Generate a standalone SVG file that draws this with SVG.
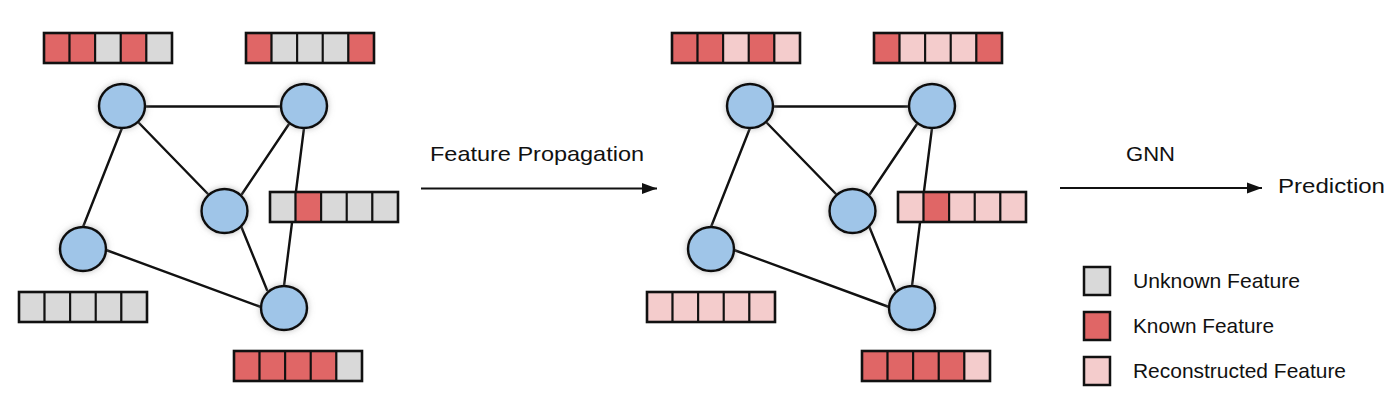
<svg xmlns="http://www.w3.org/2000/svg" width="1400" height="407" viewBox="0 0 1400 407">
<defs>
<style>
.edge{stroke:#111;stroke-width:2.4;fill:none;stroke-linecap:round}
.node{fill:#9fc5e8;stroke:#111;stroke-width:2.5;filter:url(#glow)}
.bar{fill:none;stroke:#111;stroke-width:2.6}
.cell{stroke:#111;stroke-width:2}
.g{fill:#d9d9d9}
.r{fill:#e06666}
.p{fill:#f4cccc}
.lbl{font-family:"Liberation Sans",Arial,sans-serif;font-size:21px;fill:#111}
.arrow{stroke:#111;stroke-width:2.2;fill:none}
</style>
<filter id="glow" x="-40%" y="-40%" width="180%" height="180%">
<feDropShadow dx="0" dy="0" stdDeviation="3" flood-color="#888" flood-opacity="0.55"/>
</filter>
<marker id="ah" markerUnits="userSpaceOnUse" markerWidth="16" markerHeight="12" refX="15" refY="6" orient="auto">
<path d="M0,0.5 L15,6 L0,11.5 z" fill="#111"/>
</marker>
</defs>
<rect width="1400" height="407" fill="#fff"/>

<!-- LEFT GRAPH -->
<g id="left-graph">
<g id="left-edges">
<line class="edge" x1="146" y1="106.5" x2="281" y2="106.5"/>
<line class="edge" x1="122" y1="128" x2="83" y2="227"/>
<line class="edge" x1="139" y1="123" x2="208" y2="194"/>
<line class="edge" x1="289" y1="124" x2="242" y2="194"/>
<line class="edge" x1="304" y1="128" x2="284" y2="286"/>
<line class="edge" x1="241" y1="226" x2="267" y2="290"/>
<line class="edge" x1="106" y1="250" x2="261" y2="307"/>
</g>
<g id="L-nA"><ellipse class="node" cx="122" cy="106" rx="23" ry="22"/></g>
<g id="L-nB"><ellipse class="node" cx="304" cy="106" rx="23" ry="22"/></g>
<g id="L-nC"><ellipse class="node" cx="224.5" cy="211" rx="23" ry="22"/></g>
<g id="L-nD"><ellipse class="node" cx="83" cy="249" rx="23" ry="22"/></g>
<g id="L-nE"><ellipse class="node" cx="284" cy="308" rx="23" ry="22"/></g>

<g id="L-fA" transform="translate(44,33)">
<rect class="cell r" x="0" y="0" width="25.6" height="30"/><rect class="cell r" x="25.6" y="0" width="25.6" height="30"/><rect class="cell g" x="51.2" y="0" width="25.6" height="30"/><rect class="cell r" x="76.8" y="0" width="25.6" height="30"/><rect class="cell g" x="102.4" y="0" width="25.6" height="30"/>
<rect class="bar" x="0" y="0" width="128" height="30"/>
</g>
<g id="L-fB" transform="translate(246,33)">
<rect class="cell r" x="0" y="0" width="25.6" height="30"/><rect class="cell g" x="25.6" y="0" width="25.6" height="30"/><rect class="cell g" x="51.2" y="0" width="25.6" height="30"/><rect class="cell g" x="76.8" y="0" width="25.6" height="30"/><rect class="cell r" x="102.4" y="0" width="25.6" height="30"/>
<rect class="bar" x="0" y="0" width="128" height="30"/>
</g>
<g id="L-fC" transform="translate(270,192)">
<rect class="cell g" x="0" y="0" width="25.6" height="30"/><rect class="cell r" x="25.6" y="0" width="25.6" height="30"/><rect class="cell g" x="51.2" y="0" width="25.6" height="30"/><rect class="cell g" x="76.8" y="0" width="25.6" height="30"/><rect class="cell g" x="102.4" y="0" width="25.6" height="30"/>
<rect class="bar" x="0" y="0" width="128" height="30"/>
</g>
<g id="L-fD" transform="translate(19,292)">
<rect class="cell g" x="0" y="0" width="25.6" height="30"/><rect class="cell g" x="25.6" y="0" width="25.6" height="30"/><rect class="cell g" x="51.2" y="0" width="25.6" height="30"/><rect class="cell g" x="76.8" y="0" width="25.6" height="30"/><rect class="cell g" x="102.4" y="0" width="25.6" height="30"/>
<rect class="bar" x="0" y="0" width="128" height="30"/>
</g>
<g id="L-fE" transform="translate(234,351)">
<rect class="cell r" x="0" y="0" width="25.6" height="30"/><rect class="cell r" x="25.6" y="0" width="25.6" height="30"/><rect class="cell r" x="51.2" y="0" width="25.6" height="30"/><rect class="cell r" x="76.8" y="0" width="25.6" height="30"/><rect class="cell g" x="102.4" y="0" width="25.6" height="30"/>
<rect class="bar" x="0" y="0" width="128" height="30"/>
</g>
</g>

<!-- RIGHT GRAPH -->
<g id="right-graph" transform="translate(628,0)">
<g id="right-edges">
<line class="edge" x1="146" y1="106.5" x2="281" y2="106.5"/>
<line class="edge" x1="122" y1="128" x2="83" y2="227"/>
<line class="edge" x1="139" y1="123" x2="208" y2="194"/>
<line class="edge" x1="289" y1="124" x2="242" y2="194"/>
<line class="edge" x1="304" y1="128" x2="284" y2="286"/>
<line class="edge" x1="241" y1="226" x2="267" y2="290"/>
<line class="edge" x1="106" y1="250" x2="261" y2="307"/>
</g>
<g id="R-nA"><ellipse class="node" cx="122" cy="106" rx="23" ry="22"/></g>
<g id="R-nB"><ellipse class="node" cx="304" cy="106" rx="23" ry="22"/></g>
<g id="R-nC"><ellipse class="node" cx="224.5" cy="211" rx="23" ry="22"/></g>
<g id="R-nD"><ellipse class="node" cx="83" cy="249" rx="23" ry="22"/></g>
<g id="R-nE"><ellipse class="node" cx="284" cy="308" rx="23" ry="22"/></g>

<g id="R-fA" transform="translate(44,33)">
<rect class="cell r" x="0" y="0" width="25.6" height="30"/><rect class="cell r" x="25.6" y="0" width="25.6" height="30"/><rect class="cell p" x="51.2" y="0" width="25.6" height="30"/><rect class="cell r" x="76.8" y="0" width="25.6" height="30"/><rect class="cell p" x="102.4" y="0" width="25.6" height="30"/>
<rect class="bar" x="0" y="0" width="128" height="30"/>
</g>
<g id="R-fB" transform="translate(246,33)">
<rect class="cell r" x="0" y="0" width="25.6" height="30"/><rect class="cell p" x="25.6" y="0" width="25.6" height="30"/><rect class="cell p" x="51.2" y="0" width="25.6" height="30"/><rect class="cell p" x="76.8" y="0" width="25.6" height="30"/><rect class="cell r" x="102.4" y="0" width="25.6" height="30"/>
<rect class="bar" x="0" y="0" width="128" height="30"/>
</g>
<g id="R-fC" transform="translate(270,192)">
<rect class="cell p" x="0" y="0" width="25.6" height="30"/><rect class="cell r" x="25.6" y="0" width="25.6" height="30"/><rect class="cell p" x="51.2" y="0" width="25.6" height="30"/><rect class="cell p" x="76.8" y="0" width="25.6" height="30"/><rect class="cell p" x="102.4" y="0" width="25.6" height="30"/>
<rect class="bar" x="0" y="0" width="128" height="30"/>
</g>
<g id="R-fD" transform="translate(19,292)">
<rect class="cell p" x="0" y="0" width="25.6" height="30"/><rect class="cell p" x="25.6" y="0" width="25.6" height="30"/><rect class="cell p" x="51.2" y="0" width="25.6" height="30"/><rect class="cell p" x="76.8" y="0" width="25.6" height="30"/><rect class="cell p" x="102.4" y="0" width="25.6" height="30"/>
<rect class="bar" x="0" y="0" width="128" height="30"/>
</g>
<g id="R-fE" transform="translate(234,351)">
<rect class="cell r" x="0" y="0" width="25.6" height="30"/><rect class="cell r" x="25.6" y="0" width="25.6" height="30"/><rect class="cell r" x="51.2" y="0" width="25.6" height="30"/><rect class="cell r" x="76.8" y="0" width="25.6" height="30"/><rect class="cell p" x="102.4" y="0" width="25.6" height="30"/>
<rect class="bar" x="0" y="0" width="128" height="30"/>
</g>
</g>

<!-- PROCESS ARROWS -->
<g id="connectors">
<line class="arrow" x1="421" y1="188.5" x2="657" y2="188.5" marker-end="url(#ah)"/>
<line class="arrow" x1="1060" y1="188" x2="1262" y2="188" marker-end="url(#ah)"/>
</g>
<g id="labels">
<text class="lbl" x="430" y="160.5" textLength="214" lengthAdjust="spacingAndGlyphs">Feature Propagation</text>
<text class="lbl" x="1126" y="160.5" textLength="49" lengthAdjust="spacingAndGlyphs">GNN</text>
<text class="lbl" x="1278" y="193" textLength="107" lengthAdjust="spacingAndGlyphs">Prediction</text>
</g>

<!-- LEGEND -->
<g id="legend">
<g id="leg-unknown">
<rect class="cell g" x="1084" y="267" width="26" height="28" style="stroke-width:2.5"/>
<text class="lbl" x="1133" y="288" textLength="167" lengthAdjust="spacingAndGlyphs">Unknown Feature</text>
</g>
<g id="leg-known">
<rect class="cell r" x="1084" y="312" width="26" height="28" style="stroke-width:2.5"/>
<text class="lbl" x="1133" y="333" textLength="141" lengthAdjust="spacingAndGlyphs">Known Feature</text>
</g>
<g id="leg-recon">
<rect class="cell p" x="1084" y="357" width="26" height="28" style="stroke-width:2.5"/>
<text class="lbl" x="1133" y="377.5" textLength="213" lengthAdjust="spacingAndGlyphs">Reconstructed Feature</text>
</g>
</g>
</svg>
